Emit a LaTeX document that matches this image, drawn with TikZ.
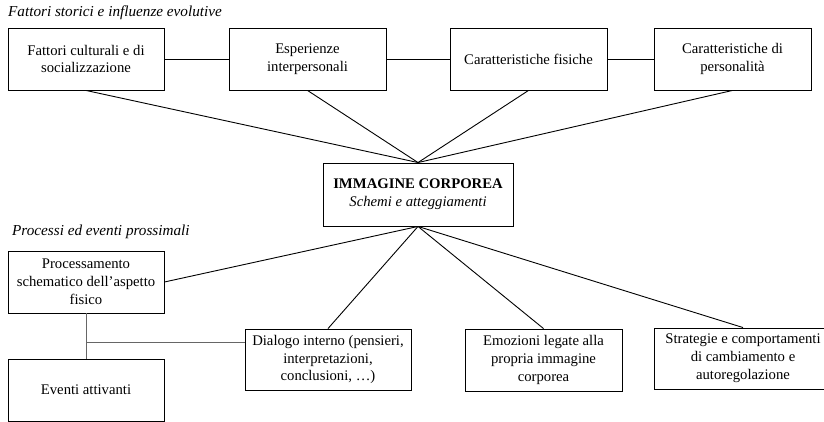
\documentclass[tikz,border=0pt]{standalone}
\usepackage{fontspec}
\setmainfont{Liberation Serif}
\begin{document}
\begin{tikzpicture}[x=1pt,y=-1pt,
  box/.style={draw=black, line width=0.9pt, rectangle, inner sep=0pt, align=center,
    font=\fontsize{14.7}{17.8}\selectfont},
  link/.style={draw=black, line width=0.9pt},
  glink/.style={draw=black!60, line width=0.9pt},
  heading/.style={anchor=west, inner sep=0pt, font=\fontsize{15.2}{18}\selectfont\itshape}]
\useasboundingbox (0,0) rectangle (824,422);
\fill[white] (0,0) rectangle (824,422);

\node[heading] (h1) at (8,13) {Fattori storici e influenze evolutive};
\node[heading] (h2) at (12,232) {Processi ed eventi prossimali};

\node[box, minimum width=156, minimum height=62] (b1) at (86,59) {Fattori culturali e di\\socializzazione};
\node[box, minimum width=157, minimum height=62] (b2) at (307.5,59) {Esperienze\\interpersonali};
\node[box, minimum width=157, minimum height=62] (b3) at (528.5,59) {Caratteristiche fisiche};
\node[box, minimum width=157, minimum height=62] (b4) at (732.5,59) {Caratteristiche di\\personalità};

\node[box, minimum width=190, minimum height=63] (c) at (418,194.5) {\textbf{IMMAGINE CORPOREA}\\\textit{Schemi e atteggiamenti}};

\node[box, minimum width=156, minimum height=62] (p) at (86,282) {Processamento\\schematico dell’aspetto\\fisico};
\node[box, minimum width=156, minimum height=62] (e) at (86,390) {Eventi attivanti};
\node[box, minimum width=166, minimum height=61] (d) at (328,359.5) {Dialogo interno (pensieri,\\interpretazioni,\\conclusioni, …)};
\node[box, minimum width=157, minimum height=62] (m) at (543.5,360) {Emozioni legate alla\\propria immagine\\corporea};
\node[box, minimum width=178, minimum height=61] (s) at (743,358.5) {Strategie e comportamenti\\di cambiamento e\\autoregolazione};

\draw[link] (b1.east) -- (b2.west);
\draw[link] (b2.east) -- (b3.west);
\draw[link] (b3.east) -- (b4.west);

\draw[link] (b1.south) -- (c.north);
\draw[link] (b2.south) -- (c.north);
\draw[link] (b3.south) -- (c.north);
\draw[link] (b4.south) -- (c.north);

\draw[link] (c.south) -- (p.east);
\draw[link] (c.south) -- (d.north);
\draw[link] (c.south) -- (m.north);
\draw[link] (c.south) -- (s.north);

\coordinate (j) at (86,342);
\draw[glink] (p.south) -- (e.north);
\draw[glink] (j) -- (j -| d.west);
\end{tikzpicture}
\end{document}
